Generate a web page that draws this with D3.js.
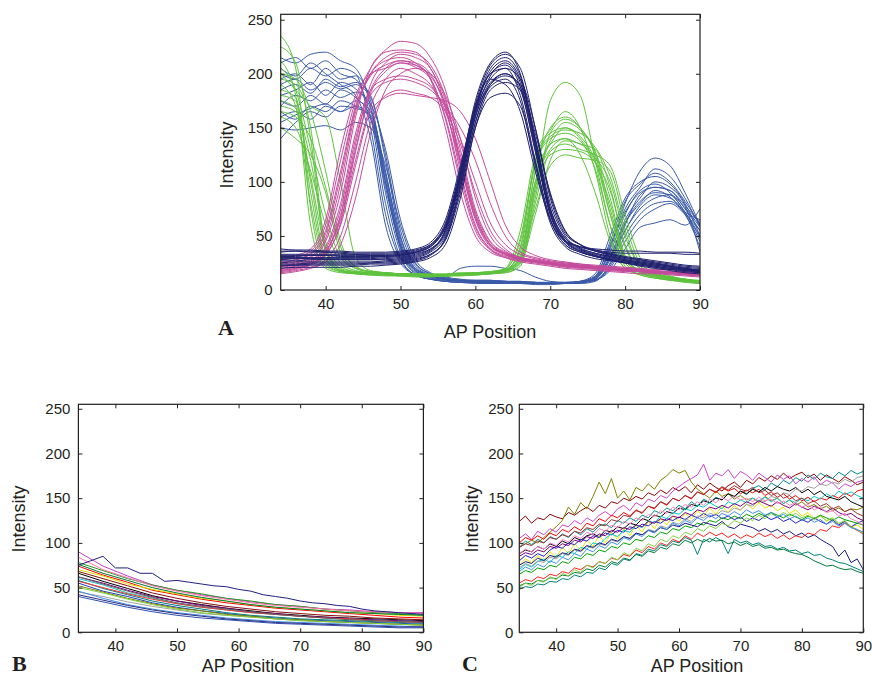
<!DOCTYPE html>
<html>
<head>
<meta charset="utf-8">
<script src="https://cdn.jsdelivr.net/npm/d3@7"></script>
<style>
  body { margin: 0; background: #fff; }
  svg { display: block; font-family: "Liberation Sans", Arial, sans-serif; }
  .axis text { font-size: 15px; fill: #231f20; }
  .axis line { stroke: #231f20; }
  .axis-title { font-size: 18px; fill: #231f20; }
  .panel-letter { font-family: "Liberation Serif", "Times New Roman", serif; font-weight: bold; font-size: 22px; fill: #231f20; }
</style>
</head>
<body>
<svg id="chart" width="872" height="678"></svg>
<script>
// ---------- data ----------
const xTicks = [40, 50, 60, 70, 80, 90];
const yTicks = [0, 50, 100, 150, 200, 250];

// panel A: AP positions sampled every 2 units
const xA = [34,36,38,40,42,44,46,48,50,52,54,56,58,60,62,64,66,68,70,72,74,76,78,80,82,84,86,88,90];

const greenA = [
  [235,205,75,22,17,15,14,14,13,13,13,13,14,14,15,16,24,95,175,192,180,120,60,22,14,11,9,7,6],
  [212,180,60,20,16,15,14,13,13,12,12,13,13,14,15,17,30,110,150,160,150,125,70,28,16,12,10,8,7],
  [195,190,150,40,20,17,16,15,15,14,14,14,15,15,16,18,40,120,145,150,140,118,80,30,18,14,11,9,8],
  [180,175,100,30,18,16,15,15,14,14,13,14,14,15,16,20,55,125,148,165,150,110,50,20,14,11,9,8,7],
  [170,165,120,45,22,17,16,15,14,14,14,14,15,15,16,17,28,90,135,140,135,130,95,40,20,15,12,10,8],
  [205,185,130,70,30,20,17,16,15,15,15,15,16,16,17,19,35,100,130,140,125,90,45,20,15,12,10,9,8],
  [160,150,110,60,25,18,16,15,15,14,14,14,15,15,16,18,25,70,120,138,135,122,100,50,22,15,12,10,9],
  [200,185,170,160,100,30,18,16,15,15,14,14,15,16,17,20,45,115,140,145,138,112,60,25,16,12,10,8,6],
  [190,170,80,25,17,15,14,14,13,13,13,13,14,14,15,16,22,80,128,135,130,125,115,70,30,18,13,10,8],
  [150,140,125,90,35,20,17,16,15,15,14,14,15,15,16,18,32,100,138,155,148,128,75,30,18,14,11,9,7],
  [225,210,140,35,18,16,15,14,14,13,13,13,14,14,15,17,26,85,145,158,150,128,85,32,17,13,10,8,7],
  [165,160,140,95,40,22,17,16,15,14,14,14,15,15,16,18,38,108,135,150,142,120,70,28,17,13,10,9,8],
  [185,178,90,28,18,16,15,14,14,14,13,13,14,15,16,19,48,118,142,148,145,132,105,55,22,15,12,9,6],
  [200,195,165,110,45,21,17,16,15,15,14,14,15,16,17,19,30,95,125,130,128,118,92,42,20,14,11,9,7],
  [175,168,105,38,19,16,15,14,14,13,13,13,14,15,16,18,28,75,115,125,122,120,110,62,25,16,12,10,8]
];

const blueA = [
  [215,210,218,220,212,205,170,90,35,15,10,8,7,7,6,6,6,6,6,6,7,10,40,80,110,122,115,90,60],
  [200,195,205,198,205,200,150,70,28,14,10,8,7,6,6,6,6,5,5,6,8,15,50,85,100,105,98,80,50],
  [185,190,182,195,188,192,180,120,50,22,14,10,8,7,7,6,6,6,6,6,6,8,25,60,88,95,92,75,55],
  [175,170,180,172,185,178,160,95,40,18,12,10,9,9,9,8,8,7,7,7,8,12,35,70,92,98,90,72,48],
  [160,165,158,170,165,175,165,110,45,20,14,12,20,22,22,20,18,12,8,7,8,10,30,55,78,88,85,70,45],
  [150,148,150,152,148,155,150,115,60,25,15,11,9,8,8,7,7,7,6,6,7,9,20,45,65,75,80,70,55],
  [195,200,190,205,195,198,175,100,38,16,11,9,8,7,7,7,6,6,6,6,7,12,45,82,98,108,100,82,60],
  [205,198,210,200,190,180,140,60,25,14,10,9,8,8,7,7,6,6,6,6,7,11,30,65,85,100,95,78,35],
  [170,180,175,185,178,183,172,130,65,28,16,12,10,9,9,8,8,7,7,7,7,9,22,50,70,80,82,72,65],
  [140,155,165,160,170,168,162,105,42,18,12,10,9,8,8,8,7,7,6,6,7,9,18,38,58,62,65,60,75],
  [210,215,205,212,200,195,160,80,30,14,10,8,7,7,6,6,6,6,6,6,7,11,38,75,95,112,105,85,58],
  [180,185,192,180,192,186,168,108,48,20,13,10,9,8,8,7,7,7,6,6,7,10,28,62,82,90,88,72,50],
  [165,158,170,165,175,170,158,100,42,19,13,10,9,8,8,8,7,7,7,7,8,13,42,72,90,95,92,78,62],
  [190,195,185,192,186,190,178,125,55,24,15,11,9,8,8,7,7,7,6,6,7,9,24,55,75,85,88,76,58],
  [155,162,168,172,165,170,160,100,40,17,12,10,9,8,8,8,7,7,6,6,7,10,32,62,80,92,86,70,40]
];

const magentaA = [
  [22,25,30,45,90,160,205,222,230,228,215,185,130,75,45,35,30,27,25,23,22,20,19,18,17,16,15,14,13],
  [18,20,24,35,70,135,190,210,218,215,205,170,110,60,38,30,26,24,22,20,19,18,17,16,15,15,14,13,12],
  [25,28,34,55,110,170,200,212,215,210,195,150,90,50,35,30,27,25,23,21,20,19,18,17,17,16,16,15,15],
  [20,22,26,36,65,120,170,195,205,200,190,165,120,70,42,33,28,26,24,22,21,20,19,18,17,16,15,15,14],
  [16,18,21,28,50,100,155,180,185,182,178,165,135,90,55,38,30,27,25,23,22,21,20,19,18,17,16,16,15],
  [28,30,36,60,120,175,205,220,222,220,205,175,120,68,42,34,30,28,26,25,24,23,22,21,20,19,19,18,18],
  [15,17,20,26,42,85,145,185,200,205,200,180,140,85,50,36,30,27,25,23,22,21,20,19,18,17,16,15,14],
  [22,24,28,40,80,145,185,195,198,195,188,170,150,120,80,50,35,30,27,25,23,21,20,19,18,17,16,15,14],
  [30,32,38,65,130,180,200,205,210,206,195,160,105,58,38,32,29,27,25,24,23,22,21,20,19,18,17,17,16],
  [19,21,25,33,60,115,165,178,182,180,178,175,165,140,100,60,40,32,28,26,24,22,21,20,19,18,17,16,15],
  [24,26,31,48,98,165,200,215,220,218,208,178,118,65,40,33,29,27,25,23,22,21,20,19,18,17,16,15,14],
  [17,19,23,32,62,128,182,202,210,208,198,172,125,72,44,34,29,26,24,22,21,20,19,18,17,16,15,14,13],
  [26,28,33,52,105,168,198,208,212,208,196,158,100,55,37,31,28,26,24,22,21,20,19,18,17,17,16,15,14],
  [21,23,27,38,75,140,185,205,212,210,200,168,115,66,41,33,28,26,24,22,21,20,19,18,18,17,16,16,15],
  [18,20,24,34,68,130,180,192,195,192,185,170,140,100,62,42,33,29,26,24,22,21,20,19,18,17,16,15,14]
];

const navyA = [
  [35,36,36,35,34,33,32,32,33,35,40,60,110,175,210,220,200,140,75,48,40,36,33,30,28,25,22,20,18],
  [28,29,29,28,28,28,28,28,29,31,36,55,105,165,200,205,180,120,65,42,35,31,28,26,24,22,20,19,17],
  [22,23,23,23,23,23,24,24,25,27,32,48,95,155,188,195,175,115,62,40,33,29,27,25,23,21,19,18,16],
  [38,37,37,36,36,35,35,35,36,38,44,65,115,170,195,190,165,110,65,45,40,38,37,36,36,35,35,35,34],
  [20,21,21,21,21,22,22,23,24,26,30,42,85,150,185,192,185,140,80,50,38,32,28,25,22,20,18,16,15],
  [31,31,32,32,31,31,31,31,32,34,38,56,108,168,205,215,198,135,72,46,38,34,31,28,26,24,22,20,19],
  [25,26,26,26,26,26,26,27,28,30,35,50,98,160,192,200,185,130,70,44,36,32,29,27,25,23,21,19,18],
  [33,33,33,33,33,33,33,33,34,36,42,62,112,172,208,218,205,150,85,52,42,37,34,31,29,27,25,23,22],
  [24,24,25,25,25,25,25,26,27,29,33,46,90,150,178,182,170,118,66,42,35,31,28,26,24,22,20,18,17],
  [30,30,30,30,30,30,30,31,32,35,40,58,100,160,190,198,190,145,90,55,42,36,32,29,27,25,23,21,20],
  [27,27,28,28,28,28,28,29,30,32,37,52,102,162,198,210,192,132,70,45,37,33,30,27,25,23,21,19,17],
  [36,36,35,35,35,34,34,34,35,37,42,60,108,170,200,208,188,128,70,46,40,37,35,34,34,34,34,33,33],
  [23,23,24,24,24,24,25,25,26,28,33,47,94,155,190,200,188,135,74,46,36,31,28,25,23,21,19,17,16],
  [29,29,29,29,29,29,29,30,31,33,38,54,104,166,202,212,195,138,76,48,39,34,31,28,26,24,22,20,18],
  [32,32,32,32,32,32,32,32,33,35,41,58,106,165,195,205,195,150,88,54,42,36,33,30,28,26,24,22,21]
];

// panel B: AP positions sampled every 4 units
const xB = [34,38,42,46,50,54,58,62,66,70,74,78,82,86,90];
const valuesB = [
  [90,74,63,53,47,42,38,34,31,29,26,25,23,22,22],
  [78,69,60,53,47,43,38,35,31,29,26,24,22,21,19],
  [74,64,56,47,42,37,33,30,27,25,23,21,19,17,16],
  [70,63,54,48,43,38,35,31,28,26,24,22,21,19,18],
  [66,57,49,41,35,31,27,24,21,19,17,16,15,14,13],
  [60,53,44,38,32,28,25,22,20,18,16,15,14,13,12],
  [55,46,40,33,28,24,21,18,16,14,13,12,11,10,9],
  [45,40,34,29,25,21,19,17,15,13,12,11,10,9,8],
  [68,60,52,44,38,33,29,26,23,21,19,18,16,15,14],
  [62,55,47,40,35,30,27,23,21,18,17,15,14,13,12],
  [58,49,42,35,30,26,22,19,17,15,14,13,12,11,10],
  [52,45,38,32,27,24,20,18,15,14,12,11,10,9,8],
  [46,38,31,26,22,19,16,14,12,11,10,9,8,7,6],
  [76,66,58,50,44,39,35,31,28,26,24,22,21,20,19],
  [84,70,61,52,46,41,37,33,30,28,26,24,23,22,21],
  [40,34,28,23,19,16,14,12,10,9,8,7,6,5,5],
  [50,44,37,31,26,22,19,17,15,13,12,11,10,9,8],
  [57,50,43,37,32,28,25,22,20,18,16,15,13,12,11],
  [42,36,30,25,21,18,15,13,11,10,9,8,7,6,6],
  [62,54,46,39,33,29,26,23,20,18,16,14,13,12,11]
];
const colorsB = ["#c040c0","#20a020","#ff0000","#e0e000","#000000","#20c0c0","#2040c0","#a0a0a0","#8b1010","#800080",
                 "#008080","#808000","#4090e0","#007a3a","#ff70b0","#3050b0","#80d040","#ff3030","#2a2a80","#606060"];
// the one high outlier in B, sampled like panel A
const outlierB = [75,80,85,72,72,66,66,57,58,56,54,52,51,48,46,42,40,38,35,33,32,30,29,26,24,23,22,21,20];

// panel C: AP positions sampled every unit
const xC = [34,35,36,37,38,39,40,41,42,43,44,45,46,47,48,49,50,51,52,
            53,54,55,56,57,58,59,60,61,62,63,64,65,66,67,68,69,70,71,
            72,73,74,75,76,77,78,79,80,81,82,83,84,85,86,87,88,89,90];
const valuesC = [
  [124,130,122,128,126,132,129,127,134,131,136,140,135,142,139,146,144,150,147,
   152,149,156,153,159,155,162,158,163,156,165,160,167,162,158,164,168,162,170,
   166,173,169,175,171,178,172,176,179,173,177,170,176,172,168,174,170,165,168],
  [95,102,98,104,100,107,104,110,106,113,109,116,112,119,121,117,125,122,128,
   124,131,128,136,133,139,136,142,138,146,141,149,145,151,148,155,151,158,154,
   161,164,159,167,163,170,166,173,169,176,171,178,174,172,179,175,181,177,180],
  [95,99,103,100,106,112,118,125,140,132,145,138,152,168,155,172,150,158,148,
   162,158,166,160,170,175,182,178,181,168,160,155,150,158,152,155,149,153,148,
   150,145,152,147,150,144,148,142,146,140,143,138,141,136,139,135,138,137,140],
  [105,110,104,113,109,116,112,120,118,125,121,128,124,131,135,130,138,142,136,
   145,141,149,146,153,150,158,163,168,172,176,188,170,178,175,182,172,180,176,
   170,178,173,168,176,171,175,166,172,168,174,165,170,167,160,166,163,168,170],
  [100,106,103,108,104,111,108,115,112,118,114,122,119,127,124,131,128,134,130,
   137,133,141,138,146,142,150,147,153,149,157,154,160,156,162,158,161,155,159,
   156,160,153,157,151,155,149,153,147,151,146,150,148,153,150,156,152,158,160],
  [88,92,90,96,93,99,96,102,99,106,103,108,110,107,114,112,118,116,122,
   120,127,125,131,129,135,133,139,137,143,141,147,145,150,148,155,152,158,155,
   160,157,162,158,163,160,158,162,156,160,154,158,152,150,148,152,146,143,140],
  [75,82,78,86,80,90,84,95,88,99,92,103,96,108,100,112,104,116,108,
   120,112,124,116,127,120,130,124,133,127,136,130,139,132,141,134,142,136,144,
   138,145,139,142,136,140,133,137,130,134,127,131,124,128,121,124,118,120,115],
  [80,86,83,88,85,92,96,94,100,98,104,102,108,106,111,109,114,112,118,
   116,121,119,124,122,127,125,129,126,131,128,133,129,132,127,130,126,129,124,
   128,125,130,126,129,124,127,122,126,123,128,124,121,126,120,124,118,122,125],
  [70,76,73,79,82,78,86,84,90,88,95,93,100,98,105,110,107,114,112,
   120,117,125,122,130,127,134,132,138,136,142,140,145,141,138,146,143,148,145,
   150,147,151,146,150,144,148,145,150,147,152,149,155,151,158,154,157,153,150],
  [72,77,74,80,78,84,82,88,86,92,90,96,94,99,97,103,101,107,105,
   111,109,115,113,119,117,123,121,127,124,130,128,133,131,136,134,139,137,143,
   141,148,146,152,150,156,154,160,158,163,161,166,164,168,166,171,168,173,175],
  [65,69,67,72,70,75,73,79,77,84,82,88,86,92,90,96,94,100,98,
   104,102,108,106,112,110,116,114,119,117,122,120,125,123,128,126,130,127,132,
   129,133,130,134,131,128,132,129,126,130,127,131,128,125,129,126,124,122,120],
  [85,89,87,92,90,96,94,99,97,103,101,107,105,110,108,114,112,117,115,
   120,118,124,122,127,125,130,128,134,131,137,135,140,138,142,139,144,141,146,
   143,147,144,141,146,142,139,144,140,137,141,138,135,139,134,131,133,128,125],
  [75,79,77,83,80,86,84,89,87,93,91,97,95,100,98,104,102,107,105,
   111,109,114,112,117,115,120,118,122,120,118,123,121,119,124,118,116,121,119,
   117,113,116,112,115,110,113,108,111,106,109,104,100,96,85,92,78,82,70],
  [48,51,50,54,53,57,56,60,59,64,62,67,66,72,70,77,75,82,80,
   88,86,93,91,98,96,102,100,106,103,87,104,101,106,102,88,104,100,102,
   98,100,96,97,93,95,91,92,88,90,86,87,83,81,78,77,74,71,68],
  [52,55,54,58,57,61,60,64,63,67,66,71,69,75,73,79,77,83,81,
   87,85,91,89,95,93,99,97,103,100,104,101,105,102,103,99,101,97,100,
   96,98,94,95,92,93,90,88,87,84,80,77,74,75,72,70,71,68,66],
  [55,59,57,62,60,65,63,68,66,72,70,75,73,79,77,83,81,87,85,
   92,89,96,93,100,97,104,101,108,104,111,107,112,108,111,106,110,105,109,
   106,111,107,110,105,109,104,108,106,111,109,115,113,119,117,122,118,114,110],
  [50,55,52,58,56,62,59,66,63,70,67,75,72,79,77,84,81,89,86,
   94,91,99,96,104,101,108,105,112,109,116,113,119,116,122,119,125,122,128,
   125,131,127,133,129,134,130,133,128,131,126,130,125,128,122,125,118,115,110],
  [68,73,70,76,73,80,77,84,81,88,85,93,90,97,94,101,98,106,103,
   110,107,114,111,118,115,122,119,125,122,128,125,131,127,133,130,135,131,137,
   133,136,131,134,129,132,127,130,125,128,123,126,121,124,119,122,117,115,112],
  [95,99,97,102,100,106,104,109,107,113,111,117,115,121,119,126,124,131,129,
   136,134,141,139,146,143,150,147,153,150,157,154,160,157,163,159,164,160,158,
   162,156,159,153,156,150,153,147,150,144,147,141,144,138,141,135,138,133,130],
  [88,93,90,96,93,100,97,104,101,108,105,112,109,116,113,120,117,124,121,
   128,125,132,129,136,133,140,137,143,140,146,142,149,145,151,147,153,148,150,
   146,151,147,149,144,147,142,145,140,143,137,140,134,136,130,133,127,124,120]
];
const colorsC = ["#8b0000","#008b8b","#808000","#cc44cc","#ff0000","#000000","#e6e600","#2020d0","#00cccc","#a0a0a0",
                 "#00a000","#800080","#1a1a80","#00807a","#007a3a","#ff2020","#80d040","#4090e0","#a03030","#ff80c0"];

// ---------- drawing ----------
const svg = d3.select('#chart');

function drawPanel(cfg, series) {
  const g = svg.append('g').attr('transform', `translate(${cfg.left},${cfg.top})`);

  const xScale = d3.scaleLinear().domain([34, 90]).range([0, cfg.width]);
  const yScale = d3.scaleLinear().domain([0, 255]).range([cfg.height, 0]);

  const clipId = 'clip-' + cfg.name;
  g.append('clipPath').attr('id', clipId)
    .append('rect').attr('width', cfg.width).attr('height', cfg.height);

  const lines = g.append('g').attr('clip-path', `url(#${clipId})`);
  series.forEach(s => {
    const line = d3.line()
        .x((d, i) => xScale(s.x[i]))
        .y(d => yScale(d))
        .curve(cfg.curve || d3.curveLinear);
    lines.append('path')
        .attr('d', line(s.values))
        .attr('fill', 'none')
        .attr('stroke', s.color)
        .attr('stroke-width', 1);
  });

  // inward ticks on all four sides
  g.append('g').attr('class', 'axis')
      .attr('transform', `translate(0,${cfg.height})`)
      .call(d3.axisBottom(xScale).tickValues(xTicks).tickSize(-4).tickSizeOuter(0).tickPadding(8));
  g.append('g').attr('class', 'axis')
      .call(d3.axisTop(xScale).tickValues(xTicks).tickSize(-4).tickSizeOuter(0).tickFormat(''));
  g.append('g').attr('class', 'axis')
      .call(d3.axisLeft(yScale).tickValues(yTicks).tickSize(-4).tickSizeOuter(0).tickPadding(cfg.yPad));
  g.append('g').attr('class', 'axis')
      .attr('transform', `translate(${cfg.width},0)`)
      .call(d3.axisRight(yScale).tickValues(yTicks).tickSize(-4).tickSizeOuter(0).tickFormat(''));
  g.selectAll('.axis .domain').remove();

  g.append('rect')
      .attr('width', cfg.width).attr('height', cfg.height)
      .attr('fill', 'none').attr('stroke', '#231f20').attr('stroke-width', 1.2);

  svg.append('text').attr('class', 'axis-title')
      .attr('x', cfg.xTitle[0]).attr('y', cfg.xTitle[1])
      .attr('text-anchor', 'middle')
      .text('AP Position');
  svg.append('text').attr('class', 'axis-title')
      .attr('transform', `translate(${cfg.yTitle[0]},${cfg.yTitle[1]}) rotate(-90)`)
      .attr('text-anchor', 'middle')
      .text('Intensity');
  svg.append('text').attr('class', 'panel-letter')
      .attr('x', cfg.letter[1]).attr('y', cfg.letter[2])
      .text(cfg.letter[0]);
}

const seriesA = [];
blueA.forEach(v => seriesA.push({x: xA, values: v, color: '#3a5aa8'}));
greenA.forEach(v => seriesA.push({x: xA, values: v, color: '#5fc23e'}));
magentaA.forEach(v => seriesA.push({x: xA, values: v, color: '#c44b9c'}));
navyA.forEach(v => seriesA.push({x: xA, values: v, color: '#1f206e'}));

const seriesB = valuesB.map((v, i) => ({x: xB, values: v, color: colorsB[i]}));
seriesB.push({x: xA, values: outlierB, color: '#202080'});

const seriesC = valuesC.map((v, i) => ({x: xC, values: v, color: colorsC[i]}));

drawPanel({name: 'a', left: 280.7, top: 14.3, width: 419.3, height: 275.7, yPad: 8,
           curve: d3.curveMonotoneX,
           xTitle: [490, 338], yTitle: [233, 155], letter: ['A', 218, 335]}, seriesA);
drawPanel({name: 'b', left: 78.4, top: 404.3, width: 345, height: 228, yPad: 8,
           xTitle: [248, 672], yTitle: [25, 519], letter: ['B', 12, 671]}, seriesB);
drawPanel({name: 'c', left: 519.3, top: 404.3, width: 344, height: 228, yPad: 6,
           xTitle: [697, 672], yTitle: [478, 519], letter: ['C', 462, 671]}, seriesC);
</script>
</body>
</html>
